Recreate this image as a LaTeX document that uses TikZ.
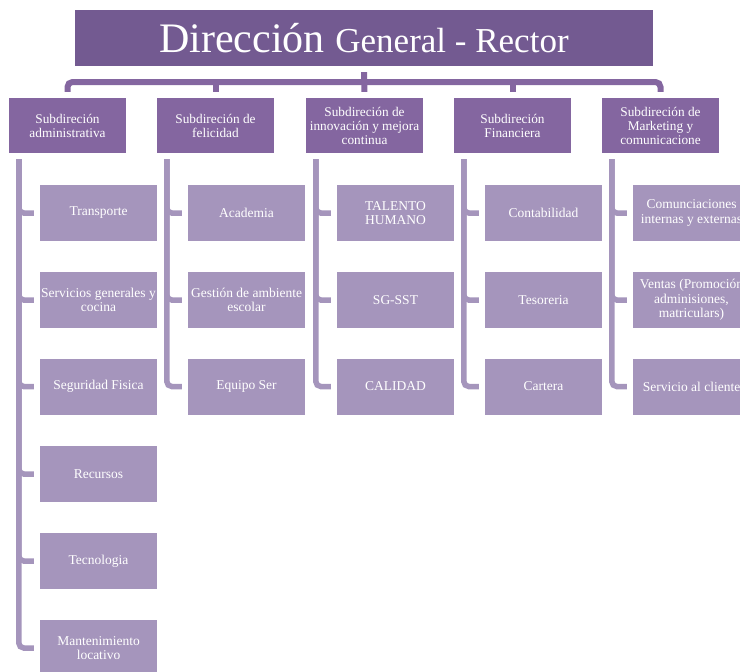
\documentclass[tikz,border=0pt]{standalone}
\usepackage{fontspec}
\setmainfont{Liberation Serif}
\definecolor{topc}{HTML}{735A91}
\definecolor{midc}{HTML}{8466A0}
\definecolor{lowc}{HTML}{A595BC}
\tikzset{
  topbox/.style={fill=topc, text=white, minimum width=578pt, minimum height=56pt, inner sep=0pt},
  subbox/.style={fill=midc, text=white, minimum width=117pt, minimum height=55pt, inner sep=1pt, align=center, font=\fontsize{13.3}{14}\selectfont},
  itembox/.style={fill=lowc, text=white, minimum width=117pt, minimum height=56pt, inner sep=1pt, align=center, font=\fontsize{13.5}{14.5}\selectfont},
  topconn/.style={draw=midc, line width=6pt, rounded corners=5pt, shorten <=6pt, shorten >=6pt},
  stem/.style={draw=midc, line width=6pt, shorten >=6pt},
  brconn/.style={draw=lowc, line width=5.5pt, rounded corners=5pt, shorten <=6pt, shorten >=6pt},
}
\begin{document}
\begin{tikzpicture}[x=1pt,y=-1pt]
\useasboundingbox (0,0) rectangle (740,672);
\clip (0,0) rectangle (740,672);
\node[topbox] (top) at (364,38) {\fontsize{42}{44}\selectfont Dirección \fontsize{35}{40}\selectfont General - Rector};

\node[subbox] (s1) at (67.5,125.5) {Subdireción\\administrativa};
\node[subbox] (s2) at (215.5,125.5) {Subdireción de\\felicidad};
\node[subbox] (s3) at (364.5,125.5) {Subdireción de\\innovación y mejora\\continua};
\node[subbox] (s4) at (512.5,125.5) {Subdireción\\Financiera};
\node[subbox] (s5) at (660.5,125.5) {Subdireción de\\Marketing y\\comunicacione};

\coordinate (j) at (364,82);
\draw[topconn] (s1.north) |- (j) -| (s5.north);
\draw[stem, shorten <=6pt] (top.south) -- (s3.north);
\draw[stem] (s2.north |- j) -- (s2.north);
\draw[stem] (s4.north |- j) -- (s4.north);

% column 1
\node[itembox] (a1) at (98.5,213) {Transporte};
\node[itembox] (a2) at (98.5,300) {Servicios generales y\\cocina};
\node[itembox] (a3) at (98.5,386.5) {Seguridad Fisica};
\node[itembox] (a4) at (98.5,474) {Recursos};
\node[itembox] (a5) at (98.5,561) {Tecnologia};
\node[itembox] (a6) at (98.5,648) {Mantenimiento\\locativo};
% column 2
\node[itembox] (b1) at (246.5,213) {Academia};
\node[itembox] (b2) at (246.5,300) {Gestión de ambiente\\escolar};
\node[itembox] (b3) at (246.5,386.5) {Equipo Ser};
% column 3
\node[itembox] (c1) at (395.5,213) {TALENTO\\HUMANO};
\node[itembox] (c2) at (395.5,300) {SG-SST};
\node[itembox] (c3) at (395.5,386.5) {CALIDAD};
% column 4
\node[itembox] (d1) at (543.5,213) {Contabilidad};
\node[itembox] (d2) at (543.5,300) {Tesoreria};
\node[itembox] (d3) at (543.5,386.5) {Cartera};
% column 5
\node[itembox] (e1) at (691.5,213) {Comunciaciones\\internas y externas};
\node[itembox] (e2) at (691.5,300) {Ventas (Promoción\\adminisiones,\\matriculars)};
\node[itembox] (e3) at (691.5,386.5) {Servicio al cliente};

\foreach \c in {a1,a2,a3,a4,a5,a6}
  \draw[brconn] ([xshift=10pt]s1.south west) |- (\c.west);
\foreach \c in {b1,b2,b3}
  \draw[brconn] ([xshift=10pt]s2.south west) |- (\c.west);
\foreach \c in {c1,c2,c3}
  \draw[brconn] ([xshift=10pt]s3.south west) |- (\c.west);
\foreach \c in {d1,d2,d3}
  \draw[brconn] ([xshift=10pt]s4.south west) |- (\c.west);
\foreach \c in {e1,e2,e3}
  \draw[brconn] ([xshift=10pt]s5.south west) |- (\c.west);
\end{tikzpicture}
\end{document}
